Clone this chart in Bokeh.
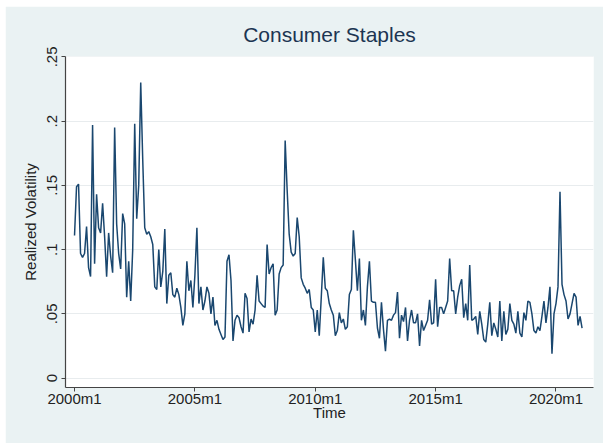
from bokeh.plotting import figure
from bokeh.models import Range1d, FixedTicker
from bokeh.embed import file_html
from bokeh.resources import INLINE

# Monthly realized volatility, 2000m1 onward
vol = [
    0.111, 0.149, 0.151, 0.097, 0.094, 0.097, 0.118, 0.086, 0.079, 0.197,
    0.089, 0.143, 0.117, 0.113, 0.136, 0.110, 0.079, 0.113, 0.095, 0.082,
    0.195, 0.120, 0.097, 0.085, 0.128, 0.120, 0.063, 0.091, 0.060, 0.100,
    0.198, 0.124, 0.150, 0.230, 0.170, 0.117, 0.112, 0.114, 0.110, 0.104,
    0.071, 0.069, 0.100, 0.071, 0.083, 0.116, 0.058, 0.080, 0.082, 0.065,
    0.063, 0.070, 0.065, 0.055, 0.041, 0.050, 0.091, 0.068, 0.076, 0.055,
    0.080, 0.117, 0.058, 0.071, 0.053, 0.060, 0.071, 0.066, 0.050, 0.063,
    0.041, 0.045, 0.038, 0.034, 0.030, 0.032, 0.091, 0.096, 0.076, 0.029,
    0.045, 0.049, 0.047, 0.040, 0.035, 0.066, 0.062, 0.036, 0.046, 0.042,
    0.053, 0.080, 0.060, 0.058, 0.056, 0.055, 0.104, 0.081, 0.086, 0.089,
    0.049, 0.053, 0.081, 0.086, 0.088, 0.185, 0.146, 0.112, 0.098, 0.095,
    0.097, 0.125, 0.110, 0.078, 0.073, 0.070, 0.066, 0.069, 0.055, 0.053,
    0.036, 0.053, 0.033, 0.063, 0.094, 0.070, 0.068, 0.058, 0.053, 0.049,
    0.033, 0.037, 0.051, 0.043, 0.046, 0.038, 0.040, 0.065, 0.069, 0.115,
    0.092, 0.068, 0.093, 0.045, 0.053, 0.041, 0.071, 0.091, 0.060, 0.059,
    0.059, 0.039, 0.031, 0.059, 0.038, 0.021, 0.045, 0.046, 0.045, 0.049,
    0.051, 0.067, 0.031, 0.049, 0.044, 0.055, 0.029, 0.045, 0.053, 0.043,
    0.043, 0.050, 0.025, 0.045, 0.037, 0.041, 0.045, 0.061, 0.042, 0.043,
    0.077, 0.040, 0.055, 0.055, 0.050, 0.055, 0.060, 0.093, 0.068, 0.068,
    0.050, 0.063, 0.072, 0.077, 0.047, 0.058, 0.045, 0.088, 0.045, 0.046,
    0.048, 0.034, 0.052, 0.042, 0.030, 0.028, 0.042, 0.059, 0.033, 0.043,
    0.038, 0.032, 0.060, 0.029, 0.052, 0.034, 0.038, 0.058, 0.045, 0.042,
    0.035, 0.052, 0.035, 0.032, 0.051, 0.045, 0.060, 0.059, 0.050, 0.037,
    0.035, 0.040, 0.037, 0.048, 0.060, 0.043, 0.055, 0.071, 0.019, 0.050,
    0.058, 0.071, 0.145, 0.073, 0.065, 0.060, 0.046, 0.050, 0.058, 0.066,
    0.063, 0.041, 0.048, 0.039,
]
months = list(range(len(vol)))  # months since 2000m1

x_tick_months = [0, 60, 120, 180, 240]
x_tick_labels = ["2000m1", "2005m1", "2010m1", "2015m1", "2020m1"]
y_ticks = [0, 0.05, 0.1, 0.15, 0.2, 0.25]
y_tick_labels = ["0", ".05", ".1", ".15", ".2", ".25"]

FONT = "Liberation Sans"
TEXT = "#222222"

p = figure(
    width=598, height=437,
    output_backend="svg", toolbar_location=None,
    x_range=Range1d(-4.5, 258.7), y_range=Range1d(-0.0073, 0.2503),
    title="Consumer Staples",
    x_axis_label="Time", y_axis_label="Realized Volatility",
    min_border_left=60, min_border_right=10,
    min_border_top=50, min_border_bottom=56,
    background_fill_color="white", border_fill_color="#EAF2F3",
    outline_line_color=None,
)
p.margin = (6, 0, 0, 5)

p.title.align = "center"
p.title.text_font = FONT
p.title.text_font_size = "21px"
p.title.text_font_style = "normal"
p.title.text_color = "#1c3552"
p.title.standoff = 21

for ax in (p.xaxis[0], p.yaxis[0]):
    ax.axis_line_color = "#444444"
    ax.axis_line_width = 1.2
    ax.major_tick_line_color = "#444444"
    ax.major_tick_out = 4
    ax.major_tick_in = 0
    ax.minor_tick_line_color = None
    ax.major_label_text_font = FONT
    ax.major_label_text_font_size = "15px"
    ax.major_label_text_color = TEXT
    ax.axis_label_text_font = FONT
    ax.axis_label_text_font_size = "15px"
    ax.axis_label_text_font_style = "normal"
    ax.axis_label_text_color = TEXT

p.xaxis.ticker = FixedTicker(ticks=x_tick_months)
p.xaxis.major_label_overrides = dict(zip(x_tick_months, x_tick_labels))
p.xaxis.major_label_standoff = -2
p.xaxis.axis_label_standoff = -6

p.yaxis.ticker = FixedTicker(ticks=y_ticks)
p.yaxis.major_label_overrides = dict(zip(y_ticks, y_tick_labels))
p.yaxis.major_label_orientation = "vertical"
p.yaxis.major_label_standoff = 4
p.yaxis.axis_label_standoff = 6

p.xgrid.grid_line_color = None
p.ygrid.ticker = FixedTicker(ticks=y_ticks)
p.ygrid.grid_line_color = "#E8ECEE"
p.ygrid.grid_line_width = 1

p.line(months, vol, line_color="#1A476F", line_width=1.5)

open("out.html", "w").write(file_html(p, INLINE))
